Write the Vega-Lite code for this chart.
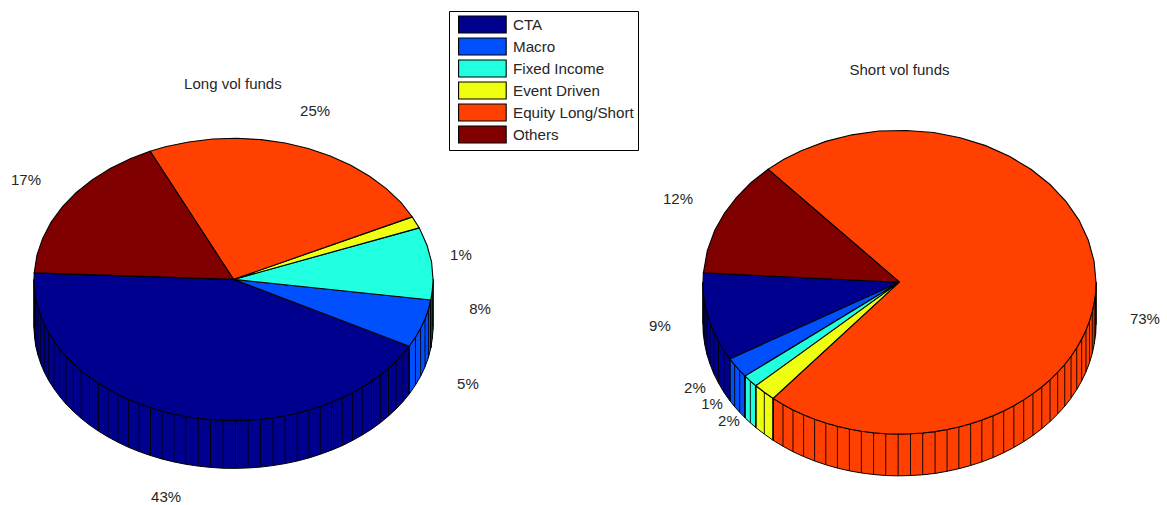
{
"$schema":"https://vega.github.io/schema/vega-lite/v6.json",
"width":1167,"height":505,"padding":0,
"autosize":{"type":"fit","contains":"padding"},
"background":"white",
"config":{"view":{"stroke":null},"text":{"font":"Liberation Sans"}},
"resolve":{"scale":{"x":"independent","y":"independent"}},
"layer":[
{
"data":{"values":[
{"slice":"CTA","u":0,"v":0},
{"slice":"CTA","u":-0.999,"v":0.046},
{"slice":"CTA","u":-1,"v":0,"base":-0.339},
{"slice":"CTA","u":-1,"v":-0.01,"base":-0.349},
{"slice":"CTA","u":-0.997,"v":-0.073,"base":-0.412},
{"slice":"CTA","u":-0.991,"v":-0.136,"base":-0.475},
{"slice":"CTA","u":-0.98,"v":-0.198,"base":-0.537},
{"slice":"CTA","u":-0.966,"v":-0.259,"base":-0.598},
{"slice":"CTA","u":-0.948,"v":-0.319,"base":-0.658},
{"slice":"CTA","u":-0.926,"v":-0.378,"base":-0.717},
{"slice":"CTA","u":-0.9,"v":-0.435,"base":-0.774},
{"slice":"CTA","u":-0.871,"v":-0.491,"base":-0.83},
{"slice":"CTA","u":-0.839,"v":-0.545,"base":-0.884},
{"slice":"CTA","u":-0.803,"v":-0.596,"base":-0.935},
{"slice":"CTA","u":-0.764,"v":-0.645,"base":-0.984},
{"slice":"CTA","u":-0.722,"v":-0.692,"base":-1.031},
{"slice":"CTA","u":-0.677,"v":-0.736,"base":-1.075},
{"slice":"CTA","u":-0.629,"v":-0.777,"base":-1.116},
{"slice":"CTA","u":-0.579,"v":-0.815,"base":-1.154},
{"slice":"CTA","u":-0.527,"v":-0.85,"base":-1.189},
{"slice":"CTA","u":-0.473,"v":-0.881,"base":-1.22},
{"slice":"CTA","u":-0.416,"v":-0.909,"base":-1.248},
{"slice":"CTA","u":-0.358,"v":-0.934,"base":-1.273},
{"slice":"CTA","u":-0.299,"v":-0.954,"base":-1.293},
{"slice":"CTA","u":-0.239,"v":-0.971,"base":-1.31},
{"slice":"CTA","u":-0.177,"v":-0.984,"base":-1.323},
{"slice":"CTA","u":-0.115,"v":-0.993,"base":-1.332},
{"slice":"CTA","u":-0.052,"v":-0.999,"base":-1.338},
{"slice":"CTA","u":0.01,"v":-1,"base":-1.339},
{"slice":"CTA","u":0.073,"v":-0.997,"base":-1.336},
{"slice":"CTA","u":0.136,"v":-0.991,"base":-1.33},
{"slice":"CTA","u":0.198,"v":-0.98,"base":-1.319},
{"slice":"CTA","u":0.259,"v":-0.966,"base":-1.305},
{"slice":"CTA","u":0.319,"v":-0.948,"base":-1.287},
{"slice":"CTA","u":0.378,"v":-0.926,"base":-1.265},
{"slice":"CTA","u":0.435,"v":-0.9,"base":-1.239},
{"slice":"CTA","u":0.491,"v":-0.871,"base":-1.21},
{"slice":"CTA","u":0.545,"v":-0.839,"base":-1.178},
{"slice":"CTA","u":0.596,"v":-0.803,"base":-1.142},
{"slice":"CTA","u":0.645,"v":-0.764,"base":-1.103},
{"slice":"CTA","u":0.692,"v":-0.722,"base":-1.061},
{"slice":"CTA","u":0.736,"v":-0.677,"base":-1.016},
{"slice":"CTA","u":0.777,"v":-0.629,"base":-0.968},
{"slice":"CTA","u":0.815,"v":-0.579,"base":-0.918},
{"slice":"CTA","u":0.85,"v":-0.527,"base":-0.866},
{"slice":"CTA","u":0.881,"v":-0.473,"base":-0.812},
{"slice":"CTA","u":0,"v":0},
{"slice":"Macro","u":0,"v":0},
{"slice":"Macro","u":0.881,"v":-0.473,"base":-0.812},
{"slice":"Macro","u":0.912,"v":-0.41,"base":-0.749},
{"slice":"Macro","u":0.938,"v":-0.347,"base":-0.686},
{"slice":"Macro","u":0.96,"v":-0.281,"base":-0.62},
{"slice":"Macro","u":0.977,"v":-0.215,"base":-0.554},
{"slice":"Macro","u":0.989,"v":-0.146,"base":-0.485},
{"slice":"Macro","u":0,"v":0},
{"slice":"Fixed Income","u":0,"v":0},
{"slice":"Fixed Income","u":0.989,"v":-0.146,"base":-0.485},
{"slice":"Fixed Income","u":0.996,"v":-0.084,"base":-0.423},
{"slice":"Fixed Income","u":1,"v":-0.021,"base":-0.36},
{"slice":"Fixed Income","u":1,"v":0,"base":-0.339},
{"slice":"Fixed Income","u":0.993,"v":0.122},
{"slice":"Fixed Income","u":0.97,"v":0.242},
{"slice":"Fixed Income","u":0.931,"v":0.365},
{"slice":"Fixed Income","u":0,"v":0},
{"slice":"Event Driven","u":0,"v":0},
{"slice":"Event Driven","u":0.931,"v":0.365},
{"slice":"Event Driven","u":0.896,"v":0.443},
{"slice":"Event Driven","u":0,"v":0},
{"slice":"Equity Long/Short","u":0,"v":0},
{"slice":"Equity Long/Short","u":0.896,"v":0.443},
{"slice":"Equity Long/Short","u":0.839,"v":0.545},
{"slice":"Equity Long/Short","u":0.766,"v":0.643},
{"slice":"Equity Long/Short","u":0.682,"v":0.731},
{"slice":"Equity Long/Short","u":0.588,"v":0.809},
{"slice":"Equity Long/Short","u":0.485,"v":0.875},
{"slice":"Equity Long/Short","u":0.375,"v":0.927},
{"slice":"Equity Long/Short","u":0.259,"v":0.966},
{"slice":"Equity Long/Short","u":0.139,"v":0.99},
{"slice":"Equity Long/Short","u":0.017,"v":1},
{"slice":"Equity Long/Short","u":-0.105,"v":0.995},
{"slice":"Equity Long/Short","u":-0.225,"v":0.974},
{"slice":"Equity Long/Short","u":-0.342,"v":0.94},
{"slice":"Equity Long/Short","u":-0.418,"v":0.908},
{"slice":"Equity Long/Short","u":0,"v":0},
{"slice":"Others","u":0,"v":0},
{"slice":"Others","u":-0.418,"v":0.908},
{"slice":"Others","u":-0.515,"v":0.857},
{"slice":"Others","u":-0.616,"v":0.788},
{"slice":"Others","u":-0.707,"v":0.707},
{"slice":"Others","u":-0.788,"v":0.616},
{"slice":"Others","u":-0.857,"v":0.515},
{"slice":"Others","u":-0.914,"v":0.407},
{"slice":"Others","u":-0.956,"v":0.292},
{"slice":"Others","u":-0.985,"v":0.174},
{"slice":"Others","u":-0.999,"v":0.046},
{"slice":"Others","u":0,"v":0}
]},
"transform":[{"window":[{"op":"row_number","as":"seq"}]}],
"encoding":{
"x":{"field":"u","type":"quantitative","axis":null,"scale":{"domain":[-1.17043,4.6792],"nice":false,"zero":false}},
"y":{"field":"v","type":"quantitative","axis":null,"scale":{"domain":[-1.58433,1.97953],"nice":false,"zero":false}}
},
"layer":[
{"transform":[{"filter":"isValid(datum.base)"}],
"mark":{"type":"area","stroke":"black","strokeWidth":1},
"encoding":{"y2":{"field":"base"},"fill":{"field":"slice","type":"nominal"}}},
{"transform":[{"filter":"isValid(datum.base)"}],
"mark":{"type":"rule","color":"black","strokeWidth":0.9},
"encoding":{"y2":{"field":"base"}}},
{"mark":{"type":"line","stroke":"black","strokeWidth":1.1,"filled":true},
"encoding":{"order":{"field":"seq","type":"quantitative"},"fill":{"field":"slice","type":"nominal"},"stroke":{"value":"black"}}},
{"data":{"values":[
{"u":-0.003,"v":1.387,"label":"Long vol funds"},
{"u":0.409,"v":1.19,"label":"25%"},
{"u":-1.04,"v":0.703,"label":"17%"},
{"u":1.14,"v":0.173,"label":"1%"},
{"u":1.236,"v":-0.208,"label":"8%"},
{"u":1.175,"v":-0.738,"label":"5%"},
{"u":-0.338,"v":-1.541,"label":"43%"}
]},
"mark":{"type":"text","fontSize":15,"align":"center","baseline":"middle"},
"encoding":{"text":{"field":"label"},"fill":{"value":"#262626"}}}
]
},
{
"data":{"values":[
{"slice":"CTA","u":0,"v":0},
{"slice":"CTA","u":-0.998,"v":0.061},
{"slice":"CTA","u":-1,"v":0,"base":-0.275},
{"slice":"CTA","u":-1,"v":-0.005,"base":-0.28},
{"slice":"CTA","u":-0.998,"v":-0.07,"base":-0.345},
{"slice":"CTA","u":-0.991,"v":-0.136,"base":-0.411},
{"slice":"CTA","u":-0.98,"v":-0.201,"base":-0.476},
{"slice":"CTA","u":-0.964,"v":-0.265,"base":-0.54},
{"slice":"CTA","u":-0.945,"v":-0.328,"base":-0.603},
{"slice":"CTA","u":-0.921,"v":-0.389,"base":-0.664},
{"slice":"CTA","u":-0.894,"v":-0.449,"base":-0.724},
{"slice":"CTA","u":-0.863,"v":-0.506,"base":-0.781},
{"slice":"CTA","u":0,"v":0},
{"slice":"Macro","u":0,"v":0},
{"slice":"Macro","u":-0.863,"v":-0.506,"base":-0.781},
{"slice":"Macro","u":-0.839,"v":-0.545,"base":-0.82},
{"slice":"Macro","u":-0.813,"v":-0.582,"base":-0.857},
{"slice":"Macro","u":-0.786,"v":-0.618,"base":-0.893},
{"slice":"Macro","u":0,"v":0},
{"slice":"Fixed Income","u":0,"v":0},
{"slice":"Fixed Income","u":-0.786,"v":-0.618,"base":-0.893},
{"slice":"Fixed Income","u":-0.759,"v":-0.651,"base":-0.926},
{"slice":"Fixed Income","u":-0.731,"v":-0.682,"base":-0.957},
{"slice":"Fixed Income","u":0,"v":0},
{"slice":"Event Driven","u":0,"v":0},
{"slice":"Event Driven","u":-0.731,"v":-0.682,"base":-0.957},
{"slice":"Event Driven","u":-0.688,"v":-0.725,"base":-1},
{"slice":"Event Driven","u":-0.643,"v":-0.766,"base":-1.041},
{"slice":"Event Driven","u":0,"v":0},
{"slice":"Equity Long/Short","u":0,"v":0},
{"slice":"Equity Long/Short","u":-0.643,"v":-0.766,"base":-1.041},
{"slice":"Equity Long/Short","u":-0.593,"v":-0.805,"base":-1.08},
{"slice":"Equity Long/Short","u":-0.542,"v":-0.841,"base":-1.116},
{"slice":"Equity Long/Short","u":-0.488,"v":-0.873,"base":-1.148},
{"slice":"Equity Long/Short","u":-0.432,"v":-0.902,"base":-1.177},
{"slice":"Equity Long/Short","u":-0.375,"v":-0.927,"base":-1.202},
{"slice":"Equity Long/Short","u":-0.316,"v":-0.949,"base":-1.224},
{"slice":"Equity Long/Short","u":-0.255,"v":-0.967,"base":-1.242},
{"slice":"Equity Long/Short","u":-0.194,"v":-0.981,"base":-1.256},
{"slice":"Equity Long/Short","u":-0.132,"v":-0.991,"base":-1.266},
{"slice":"Equity Long/Short","u":-0.07,"v":-0.998,"base":-1.273},
{"slice":"Equity Long/Short","u":-0.007,"v":-1,"base":-1.275},
{"slice":"Equity Long/Short","u":0.056,"v":-0.998,"base":-1.273},
{"slice":"Equity Long/Short","u":0.118,"v":-0.993,"base":-1.268},
{"slice":"Equity Long/Short","u":0.181,"v":-0.984,"base":-1.259},
{"slice":"Equity Long/Short","u":0.242,"v":-0.97,"base":-1.245},
{"slice":"Equity Long/Short","u":0.302,"v":-0.953,"base":-1.228},
{"slice":"Equity Long/Short","u":0.362,"v":-0.932,"base":-1.207},
{"slice":"Equity Long/Short","u":0.419,"v":-0.908,"base":-1.183},
{"slice":"Equity Long/Short","u":0.476,"v":-0.88,"base":-1.155},
{"slice":"Equity Long/Short","u":0.53,"v":-0.848,"base":-1.123},
{"slice":"Equity Long/Short","u":0.582,"v":-0.813,"base":-1.088},
{"slice":"Equity Long/Short","u":0.632,"v":-0.775,"base":-1.05},
{"slice":"Equity Long/Short","u":0.679,"v":-0.734,"base":-1.009},
{"slice":"Equity Long/Short","u":0.724,"v":-0.69,"base":-0.965},
{"slice":"Equity Long/Short","u":0.766,"v":-0.643,"base":-0.918},
{"slice":"Equity Long/Short","u":0.805,"v":-0.593,"base":-0.868},
{"slice":"Equity Long/Short","u":0.841,"v":-0.542,"base":-0.817},
{"slice":"Equity Long/Short","u":0.873,"v":-0.488,"base":-0.763},
{"slice":"Equity Long/Short","u":0.902,"v":-0.432,"base":-0.707},
{"slice":"Equity Long/Short","u":0.927,"v":-0.375,"base":-0.65},
{"slice":"Equity Long/Short","u":0.949,"v":-0.316,"base":-0.591},
{"slice":"Equity Long/Short","u":0.967,"v":-0.255,"base":-0.53},
{"slice":"Equity Long/Short","u":0.981,"v":-0.194,"base":-0.469},
{"slice":"Equity Long/Short","u":0.991,"v":-0.132,"base":-0.407},
{"slice":"Equity Long/Short","u":0.998,"v":-0.07,"base":-0.345},
{"slice":"Equity Long/Short","u":1,"v":-0.007,"base":-0.282},
{"slice":"Equity Long/Short","u":1,"v":0,"base":-0.275},
{"slice":"Equity Long/Short","u":0.99,"v":0.139},
{"slice":"Equity Long/Short","u":0.961,"v":0.276},
{"slice":"Equity Long/Short","u":0.914,"v":0.407},
{"slice":"Equity Long/Short","u":0.848,"v":0.53},
{"slice":"Equity Long/Short","u":0.766,"v":0.643},
{"slice":"Equity Long/Short","u":0.669,"v":0.743},
{"slice":"Equity Long/Short","u":0.559,"v":0.829},
{"slice":"Equity Long/Short","u":0.438,"v":0.899},
{"slice":"Equity Long/Short","u":0.309,"v":0.951},
{"slice":"Equity Long/Short","u":0.174,"v":0.985},
{"slice":"Equity Long/Short","u":0.035,"v":0.999},
{"slice":"Equity Long/Short","u":-0.105,"v":0.995},
{"slice":"Equity Long/Short","u":-0.242,"v":0.97},
{"slice":"Equity Long/Short","u":-0.375,"v":0.927},
{"slice":"Equity Long/Short","u":-0.5,"v":0.866},
{"slice":"Equity Long/Short","u":-0.588,"v":0.809},
{"slice":"Equity Long/Short","u":-0.669,"v":0.743},
{"slice":"Equity Long/Short","u":0,"v":0},
{"slice":"Others","u":0,"v":0},
{"slice":"Others","u":-0.669,"v":0.743},
{"slice":"Others","u":-0.755,"v":0.656},
{"slice":"Others","u":-0.829,"v":0.559},
{"slice":"Others","u":-0.891,"v":0.454},
{"slice":"Others","u":-0.94,"v":0.342},
{"slice":"Others","u":-0.978,"v":0.208},
{"slice":"Others","u":-0.998,"v":0.061},
{"slice":"Others","u":0,"v":0}
]},
"transform":[{"window":[{"op":"row_number","as":"seq"}]}],
"encoding":{
"x":{"field":"u","type":"quantitative","axis":null,"scale":{"domain":[-4.57761,1.36132],"nice":false,"zero":false}},
"y":{"field":"v","type":"quantitative","axis":null,"scale":{"domain":[-1.45377,1.8577],"nice":false,"zero":false}}
},
"layer":[
{"transform":[{"filter":"isValid(datum.base)"}],
"mark":{"type":"area","stroke":"black","strokeWidth":1},
"encoding":{"y2":{"field":"base"},"fill":{"field":"slice","type":"nominal"}}},
{"transform":[{"filter":"isValid(datum.base)"}],
"mark":{"type":"rule","color":"black","strokeWidth":0.9},
"encoding":{"y2":{"field":"base"}}},
{"mark":{"type":"line","stroke":"black","strokeWidth":1.1,"filled":true},
"encoding":{"order":{"field":"seq","type":"quantitative"},"fill":{"field":"slice","type":"nominal"},"stroke":{"value":"black"}}},
{"data":{"values":[
{"u":0,"v":1.399,"label":"Short vol funds"},
{"u":1.249,"v":-0.241,"label":"73%"},
{"u":-1.127,"v":0.546,"label":"12%"},
{"u":-1.219,"v":-0.287,"label":"9%"},
{"u":-1.041,"v":-0.694,"label":"2%"},
{"u":-0.954,"v":-0.805,"label":"1%"},
{"u":-0.868,"v":-0.917,"label":"2%"}
]},
"mark":{"type":"text","fontSize":15,"align":"center","baseline":"middle"},
"encoding":{"text":{"field":"label"},"fill":{"value":"#262626"}}}
]
}
],
"encoding":{
"fill":{"field":"slice","type":"nominal",
"scale":{"domain":["CTA","Macro","Fixed Income","Event Driven","Equity Long/Short","Others"],"range":["#00008F","#0050FF","#20FFDF","#EFFF10","#FF4000","#800000"]},
"legend":{"orient":"none","legendX":449,"legendY":11,"title":null,"direction":"vertical",
"fillColor":"white","strokeColor":"black","padding":4,
"symbolType":"M-0.46,-1H5.14V1H-0.46Z","symbolSize":289,"symbolStrokeColor":"black","symbolStrokeWidth":1.1,"symbolOpacity":1,
"labelFont":"Liberation Sans","labelFontSize":15.2,"labelColor":"#262626","labelOffset":41,"rowPadding":-1}
}
}
}
